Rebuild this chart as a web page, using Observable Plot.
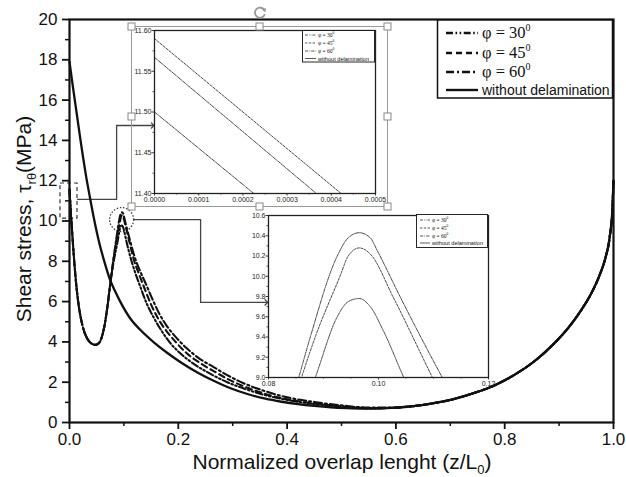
<!DOCTYPE html>
<html><head><meta charset="utf-8">
<script src="https://cdn.jsdelivr.net/npm/d3@7"></script>
<script src="https://cdn.jsdelivr.net/npm/@observablehq/plot@0.6"></script>
<style>
html,body{margin:0;padding:0;background:#fff;}
#wrap{position:relative;width:626px;height:477px;overflow:hidden;background:#fff;}
#wrap svg{position:absolute;overflow:visible;}
</style></head><body><div id="wrap"></div>
<script>
// ---------- tick labels ----------
const xTicks = [0, 0.2, 0.4, 0.6, 0.8, 1.0];
const xMinorTicks = [0.1, 0.3, 0.5, 0.7, 0.9];
const yTicks = [0, 2, 4, 6, 8, 10, 12, 14, 16, 18, 20];
const yMinorTicks = [1, 3, 5, 7, 9, 11, 13, 15, 17, 19];
const inset1XTicks = [0, 0.0001, 0.0002, 0.0003, 0.0004, 0.0005];
const inset1XMinor = [0.00005, 0.00015, 0.00025, 0.00035, 0.00045];
const inset1YTicks = [11.40, 11.45, 11.50, 11.55, 11.60];
const inset1YMinor = [11.425, 11.475, 11.525, 11.575];
const inset2XTicks = [0.08, 0.10, 0.12];
const inset2XMinor = [0.085, 0.09, 0.095, 0.105, 0.11, 0.115];
const inset2YTicks = [9.0, 9.2, 9.4, 9.6, 9.8, 10.0, 10.2, 10.4, 10.6];
const inset2YMinor = [9.1, 9.3, 9.5, 9.7, 9.9, 10.1, 10.3, 10.5];

// ---------- series: without delamination ----------
const solidX = [0, 0.005, 0.010, 0.015, 0.020, 0.025, 0.030, 0.037, 0.044, 0.054, 0.065, 0.075, 0.085, 0.094, 0.112, 0.13, 0.155, 0.18, 0.205, 0.236, 0.265, 0.296, 0.33, 0.36, 0.39, 0.42, 0.45, 0.48, 0.51, 0.54, 0.57, 0.60, 0.635, 0.665, 0.70, 0.74, 0.781, 0.82, 0.855, 0.89, 0.917, 0.94, 0.959, 0.975, 0.985, 0.993, 0.998, 1.0];
const solidY = [17.9, 16.9, 15.95, 15.0, 14.05, 13.15, 12.3, 11.25, 10.25, 9.0, 7.9, 7.05, 6.45, 5.96, 5.15, 4.6, 3.98, 3.45, 2.98, 2.47, 2.07, 1.7, 1.39, 1.18, 1.03, 0.91, 0.82, 0.75, 0.71, 0.69, 0.70, 0.74, 0.82, 0.94, 1.12, 1.43, 1.84, 2.4, 3.05, 3.9, 4.7, 5.55, 6.4, 7.35, 8.15, 9.2, 10.6, 12.0];

// ---------- series: with delamination (shared dip) ----------
const riseX = [0.004, 0.006, 0.008, 0.011, 0.015, 0.020, 0.026, 0.033, 0.040, 0.048, 0.055, 0.060, 0.065, 0.070, 0.075];
const riseY = [9.8, 9.0, 8.25, 7.25, 6.2, 5.3, 4.6, 4.15, 3.93, 3.85, 3.97, 4.3, 4.9, 5.8, 6.9];

const phi30X = [0, 0.002, 0.080, 0.0885, 0.0925, 0.0945, 0.0965, 0.0985, 0.1009, 0.1046, 0.112, 0.12, 0.13, 0.142, 0.155, 0.168, 0.185, 0.205, 0.229, 0.26, 0.29, 0.33, 0.365, 0.42, 0.47, 0.52, 0.56];
const phi30Y = [11.50, 10.61, 7.8, 9.0, 9.6, 9.75, 9.78, 9.7, 9.46, 9.0, 8.2, 7.5, 6.75, 5.9, 5.2, 4.6, 3.95, 3.4, 2.9, 2.4, 2.0, 1.6, 1.32, 1.03, 0.86, 0.75, 0.70];

const phi45X = [0, 0.002, 0.080, 0.086, 0.0885, 0.093, 0.0945, 0.0965, 0.0985, 0.1027, 0.1098, 0.118, 0.128, 0.138, 0.15, 0.163, 0.178, 0.195, 0.215, 0.24, 0.265, 0.29, 0.32, 0.36, 0.40, 0.45, 0.50, 0.55];
const phi45Y = [11.59, 10.69, 7.9, 9.0, 9.4, 10.0, 10.2, 10.28, 10.22, 9.79, 9.0, 8.1, 7.35, 6.65, 5.85, 5.15, 4.55, 4.0, 3.45, 2.95, 2.55, 2.17, 1.8, 1.42, 1.15, 0.95, 0.8, 0.71];

const phi60X = [0, 0.002, 0.080, 0.0855, 0.0876, 0.0925, 0.0945, 0.0965, 0.0985, 0.0998, 0.104, 0.1116, 0.12, 0.13, 0.14, 0.152, 0.165, 0.18, 0.195, 0.215, 0.24, 0.265, 0.29, 0.32, 0.36, 0.40, 0.45, 0.50, 0.55];
const phi60Y = [11.567, 10.655, 7.95, 9.0, 9.4, 10.2, 10.38, 10.43, 10.38, 10.25, 9.79, 9.0, 8.2, 7.5, 6.9, 6.15, 5.4, 4.75, 4.25, 3.7, 3.15, 2.75, 2.35, 1.95, 1.55, 1.25, 1.02, 0.85, 0.74];

// ---------- annotations (main-chart data coordinates) ----------
const zoomBox = [{x1: -0.0166, x2: 0.0147, y1: 10.12, y2: 11.86}];
const zoomCircle = [{x: 0.0958, y: 10.07}];
const connector1 = [[0.0147, 11.07], [0.0866, 11.07], [0.0866, 14.74], [0.1529, 14.74]];
const connector2 = [[0.118, 10.07], [0.241, 10.07], [0.241, 5.96], [0.362, 5.96]];

const legendLabels = ["\u03c6 = 30", "\u03c6 = 45", "\u03c6 = 60", "without delamination"];

// ---------- build tables ----------
const pts = (xs, ys) => xs.map((x, i) => ({x, y: ys[i]}));
const tail = pts(solidX, solidY).filter(d => d.x >= 0.6);
const build = (xs, ys) => {
  const own = pts(xs, ys);
  return [...own.slice(0, 2), ...pts(riseX, riseY), ...own.slice(2), ...tail];
};
const solid = pts(solidX, solidY);
const s30 = build(phi30X, phi30Y);
const s45 = build(phi45X, phi45Y);
const s60 = build(phi60X, phi60Y);

const dashMain = {p30: "7,2.5,1.6,2.5,1.6,2.5", p45: "6,4", p60: "8,3,2,3"};
const dashSmall = {p30: "3,1,0.7,1,0.7,1", p45: "2.4,1.4", p60: "3.2,1.1,0.8,1.1"};
const SANS = "'Liberation Sans', Arial, Helvetica, sans-serif";
const SERIF = "'Liberation Serif', 'Times New Roman', serif";

// ---------- main chart ----------
const main = Plot.plot({
  width: 626, height: 477,
  marginLeft: 69, marginRight: 13, marginTop: 19, marginBottom: 55,
  style: {fontFamily: SANS, fontSize: "17px", background: "transparent", color: "#111", overflow: "visible"},
  x: {domain: [0, 1]},
  y: {domain: [0, 20]},
  marks: [
    Plot.axisX({ticks: xTicks, tickFormat: d3.format(".1f"), tickSize: 7, tickPadding: 3, strokeWidth: 1.8, label: null}),
    Plot.axisX({ticks: xMinorTicks, tickSize: 4, strokeWidth: 1.5, tickFormat: () => "", label: null}),
    Plot.axisY({ticks: yTicks, tickFormat: d3.format("d"), tickSize: 7, tickPadding: 5, strokeWidth: 1.8, label: null}),
    Plot.axisY({ticks: yMinorTicks, tickSize: 4, strokeWidth: 1.5, tickFormat: () => "", label: null}),
    Plot.rect(zoomBox, {x1: "x1", x2: "x2", y1: "y1", y2: "y2", fill: "none", stroke: "#333", strokeWidth: 1.2, strokeDasharray: "4,3"}),
    Plot.dot(zoomCircle, {x: "x", y: "y", r: 12, fill: "none", stroke: "#333", strokeWidth: 1.3, strokeDasharray: "1.4,1.8"}),
    Plot.line(connector1, {x: d => d[0], y: d => d[1], stroke: "#444", strokeWidth: 1.3, markerEnd: "arrow"}),
    Plot.line(connector2, {x: d => d[0], y: d => d[1], stroke: "#444", strokeWidth: 1.3, markerEnd: "arrow"}),
    Plot.line(solid, {x: "x", y: "y", stroke: "#111", strokeWidth: 2.3, curve: "monotone-x"}),
    Plot.line(s30, {x: "x", y: "y", stroke: "#111", strokeWidth: 2.1, strokeDasharray: dashMain.p30, curve: "monotone-x"}),
    Plot.line(s45, {x: "x", y: "y", stroke: "#111", strokeWidth: 2.1, strokeDasharray: dashMain.p45, curve: "monotone-x"}),
    Plot.line(s60, {x: "x", y: "y", stroke: "#111", strokeWidth: 2.1, strokeDasharray: dashMain.p60, curve: "monotone-x"}),
    Plot.frame({stroke: "#111", strokeWidth: 2.2})
  ]
});
main.style.left = "0px"; main.style.top = "0px";

// ---------- inset 1 ----------
const inset1 = Plot.plot({
  width: 257, height: 181,
  marginLeft: 23, marginRight: 13, marginTop: 4, marginBottom: 14,
  style: {fontFamily: SANS, fontSize: "7px", background: "transparent", color: "#222", overflow: "visible"},
  x: {domain: [0, 0.0005]},
  y: {domain: [11.4, 11.6]},
  marks: [
    Plot.axisX({ticks: inset1XTicks, tickFormat: d3.format(".4f"), tickSize: 2.5, tickPadding: 1.5, strokeWidth: 0.9, label: null}),
    Plot.axisX({ticks: inset1XMinor, tickSize: 1.5, strokeWidth: 0.8, tickFormat: () => "", label: null}),
    Plot.axisY({ticks: inset1YTicks, tickFormat: d3.format(".2f"), tickSize: 2.5, tickPadding: 0.5, strokeWidth: 0.9, label: null}),
    Plot.axisY({ticks: inset1YMinor, tickSize: 1.5, strokeWidth: 0.8, tickFormat: () => "", label: null}),
    Plot.line(s30, {x: "x", y: "y", stroke: "#333", strokeWidth: 0.9, strokeDasharray: dashSmall.p30, clip: true}),
    Plot.line(s45, {x: "x", y: "y", stroke: "#333", strokeWidth: 0.9, strokeDasharray: dashSmall.p45, clip: true}),
    Plot.line(s60, {x: "x", y: "y", stroke: "#333", strokeWidth: 0.9, strokeDasharray: dashSmall.p60, clip: true}),
    Plot.frame({stroke: "#222", strokeWidth: 1.3})
  ]
});
inset1.style.left = "131px"; inset1.style.top = "26px";

// ---------- inset 2 ----------
const inset2 = Plot.plot({
  width: 247, height: 184,
  marginLeft: 23, marginRight: 4, marginTop: 7, marginBottom: 15,
  style: {fontFamily: SANS, fontSize: "7px", background: "transparent", color: "#222", overflow: "visible"},
  x: {domain: [0.08, 0.12]},
  y: {domain: [9.0, 10.6]},
  marks: [
    Plot.axisX({ticks: inset2XTicks, tickFormat: d3.format(".2f"), tickSize: 2.5, tickPadding: 1.5, strokeWidth: 0.9, label: null}),
    Plot.axisX({ticks: inset2XMinor, tickSize: 1.5, strokeWidth: 0.8, tickFormat: () => "", label: null}),
    Plot.axisY({ticks: inset2YTicks, tickFormat: d3.format(".1f"), tickSize: 2.5, tickPadding: 0.5, strokeWidth: 0.9, label: null}),
    Plot.axisY({ticks: inset2YMinor, tickSize: 1.5, strokeWidth: 0.8, tickFormat: () => "", label: null}),
    Plot.line(s30, {x: "x", y: "y", stroke: "#333", strokeWidth: 0.9, strokeDasharray: dashSmall.p30, curve: "monotone-x", clip: true}),
    Plot.line(s45, {x: "x", y: "y", stroke: "#333", strokeWidth: 0.9, strokeDasharray: dashSmall.p45, curve: "monotone-x", clip: true}),
    Plot.line(s60, {x: "x", y: "y", stroke: "#333", strokeWidth: 0.9, strokeDasharray: dashSmall.p60, curve: "monotone-x", clip: true}),
    Plot.frame({stroke: "#222", strokeWidth: 1.3})
  ]
});
inset2.style.left = "245px"; inset2.style.top = "208px";

const wrap = document.getElementById("wrap");
wrap.appendChild(main);
wrap.appendChild(inset1);
wrap.appendChild(inset2);

// ---------- overlay: titles, legends, selection frame ----------
const ov = d3.create("svg").attr("width", 626).attr("height", 477)
  .style("left", "0px").style("top", "0px").style("pointer-events", "none");

// axis titles
const xt = ov.append("text").attr("x", 342).attr("y", 469).attr("text-anchor", "middle")
  .attr("font-family", SANS).attr("font-size", 21).attr("fill", "#111");
xt.append("tspan").text("Normalized overlap lenght (z/L");
xt.append("tspan").attr("font-size", 13).attr("dy", 5).text("0");
xt.append("tspan").attr("dy", -5).text(")");

const yt = ov.append("text").attr("transform", "translate(31,219) rotate(-90)").attr("text-anchor", "middle")
  .attr("font-family", SANS).attr("font-size", 21).attr("fill", "#111");
yt.append("tspan").text("Shear stress, \u03c4");
yt.append("tspan").attr("font-size", 13).attr("dy", 5).text("r\u03b8");
yt.append("tspan").attr("dy", -5).text("(MPa)");

// legend helper
function legend(g, box, ys, x0, x1, tx, fs, sw, dashes, supFs, supDy, sansFs) {
  g.append("rect").attr("x", box[0]).attr("y", box[1]).attr("width", box[2]).attr("height", box[3])
    .attr("fill", "white").attr("stroke", "#111").attr("stroke-width", sw[0]);
  legendLabels.forEach((lab, i) => {
    g.append("line").attr("x1", x0).attr("x2", x1).attr("y1", ys[i]).attr("y2", ys[i])
      .attr("stroke", "#111").attr("stroke-width", sw[1]).attr("stroke-dasharray", dashes[i]);
    if (i < 3) {
      const t = g.append("text").attr("x", tx).attr("y", ys[i] + fs * 0.33)
        .attr("font-family", SERIF).attr("font-size", fs).attr("fill", "#111");
      t.append("tspan").text(lab);
      t.append("tspan").attr("font-size", supFs).attr("dy", supDy).text("0");
    } else {
      g.append("text").attr("x", tx).attr("y", ys[i] + sansFs * 0.36)
        .attr("font-family", SANS).attr("font-size", sansFs).attr("fill", "#111").text(lab);
    }
  });
}
legend(ov, [437.5, 20, 175, 78], [33, 53, 72, 90], 446, 478, 482, 16.5, [1.5, 2.4],
  [dashMain.p30, dashMain.p45, dashMain.p60, null], 10, -7, 14);
legend(ov, [302.5, 30.5, 72, 31.5], [35, 43, 51, 58.5], 305, 316, 318, 5.5, [0.9, 0.7],
  [dashSmall.p30, dashSmall.p45, dashSmall.p60, null], 3.5, -2.5, 5.6);
legend(ov, [416.5, 214.5, 71, 33], [220, 228, 236, 243], 420, 430, 432, 5.5, [0.9, 0.7],
  [dashSmall.p30, dashSmall.p45, dashSmall.p60, null], 3.5, -2.5, 5.6);

// selection frame around inset 1 (editor chrome)
ov.append("rect").attr("x", 131.5).attr("y", 26.5).attr("width", 256).attr("height", 180)
  .attr("fill", "none").attr("stroke", "#999").attr("stroke-width", 1);
const hx = [131.5, 259.5, 387.5], hy = [26.5, 116.5, 206.5];
hx.forEach((x, i) => hy.forEach((y, j) => {
  if (i === 1 && j === 1) return;
  ov.append("rect").attr("x", x - 3.5).attr("y", y - 3.5).attr("width", 7).attr("height", 7)
    .attr("fill", "white").attr("stroke", "#888").attr("stroke-width", 1);
}));
ov.append("path").attr("d", "M264.5,10.5 A5,5 0 1,0 264.8,14").attr("fill", "none")
  .attr("stroke", "#999").attr("stroke-width", 1.8);
ov.append("path").attr("d", "M262,9.5 L266,8 L265.5,12.5 Z").attr("fill", "#999");

wrap.appendChild(ov.node());
</script>
</body></html>
